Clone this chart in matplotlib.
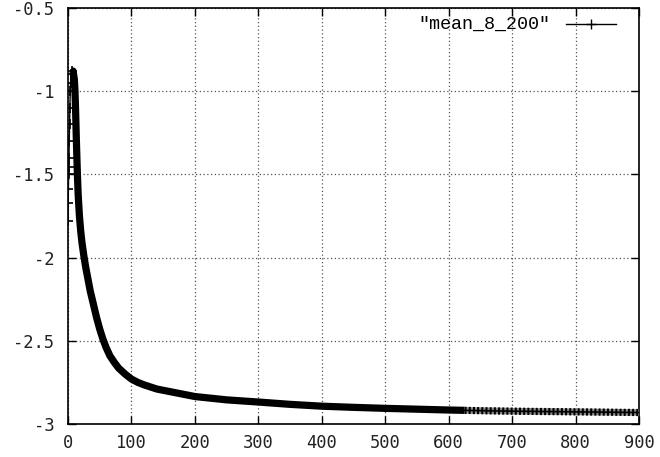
import matplotlib
matplotlib.use("Agg")
import matplotlib.pyplot as plt

# readings (x, y) of series "mean_8_200"
rise_x = [0, 0.3, 0.6, 0.9, 1.2, 1.5, 2.0, 2.5, 3.0, 3.5, 4.0, 5.0, 6.0]
rise_y = [-1.78, -1.67, -1.59, -1.50, -1.455, -1.40, -1.30, -1.20, -1.10, -1.00, -0.95, -0.90, -0.88]

main_x = [6, 8, 10, 11, 12, 13, 14, 15, 16, 18, 20, 22, 25, 28, 31, 35, 40, 45, 50, 55,
          60, 66, 73, 80, 90, 100, 110, 120, 140, 160, 180, 200, 250, 300, 350, 400,
          450, 500, 550, 600, 625]
main_y = [-0.88, -0.88, -0.93, -1.00, -1.12, -1.27, -1.40, -1.52, -1.62, -1.75, -1.84,
          -1.91, -1.99, -2.06, -2.12, -2.20, -2.28, -2.36, -2.43, -2.49, -2.54, -2.59,
          -2.63, -2.665, -2.70, -2.73, -2.75, -2.765, -2.79, -2.805, -2.82, -2.835,
          -2.855, -2.868, -2.882, -2.893, -2.900, -2.906, -2.911, -2.916, -2.918]

tail_x = [625, 650, 700, 750, 800, 850, 900]
tail_y = [-2.918, -2.920, -2.923, -2.925, -2.927, -2.929, -2.931]

xticks = [0, 100, 200, 300, 400, 500, 600, 700, 800, 900]
yticks = [-3, -2.5, -2, -1.5, -1, -0.5]
ytick_labels = ["-3", "-2.5", "-2", "-1.5", "-1", "-0.5"]
label = '"mean_8_200"'

fig = plt.figure(figsize=(6.6, 4.57), dpi=100)
ax = fig.add_axes([68/660, 1-424/457, (639-68)/660, (424-7.8)/457])

# dense band
ax.plot(main_x, main_y, color="black", lw=5.2, solid_capstyle="butt",
        solid_joinstyle="round", zorder=3)
ax.plot(tail_x, tail_y, color="#8a8a8a", lw=4.8, solid_capstyle="butt", zorder=3)
ax.plot(tail_x, tail_y, color="black", lw=5.2, linestyle=(0, (0.28, 0.3)),
        dash_capstyle="butt", zorder=3)
ax.plot(tail_x, tail_y, color="black", lw=1.2, zorder=3)
ax.plot(rise_x, rise_y, color="black", lw=1, marker="+", ms=7, mew=1.2, zorder=3)

ax.set_xlim(0, 900)
ax.set_ylim(-3, -0.5)
ax.set_xticks(xticks)
ax.set_yticks(yticks)
ax.set_yticklabels(ytick_labels)

for lab in ax.get_xticklabels() + ax.get_yticklabels():
    lab.set_fontfamily("DejaVu Sans Mono")
    lab.set_fontsize(12.3)
    lab.set_color("#222222")

ax.tick_params(direction="in", length=6, width=1, top=True, right=True, pad=7)
ax.tick_params(axis="y", pad=10)
for s in ax.spines.values():
    s.set_linewidth(1.2)
    s.set_color("black")

ax.grid(True, color="#555555", linestyle=(0, (1, 2)), linewidth=0.9)
ax.set_axisbelow(True)

# legend (gnuplot style)
ax.text(550/660, 1-24/457, label, transform=fig.transFigure, ha="right", va="center",
        fontfamily="Liberation Mono", fontsize=13.2, color="black")
ax.plot([566/660, 616/660], [1-24/457, 1-24/457], transform=fig.transFigure,
        color="black", lw=1, clip_on=False)
ax.plot([591/660], [1-24/457], transform=fig.transFigure, color="black",
        marker="+", ms=7, mew=1, clip_on=False)

fig.savefig("out.png", dpi=100)
